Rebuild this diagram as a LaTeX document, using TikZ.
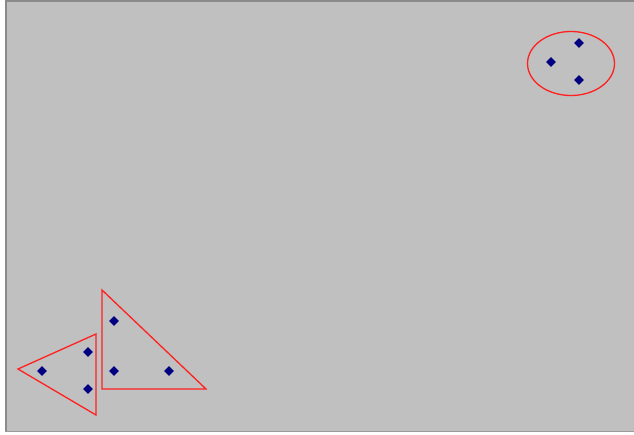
\documentclass[tikz,border=0pt]{standalone}
\usetikzlibrary{shapes.geometric}
\definecolor{bg}{HTML}{C0C0C0}
\definecolor{frame}{HTML}{8A8A8A}
\definecolor{pt}{HTML}{000080}
\definecolor{hull}{HTML}{FF2020}
\tikzset{
  dot/.style={diamond, fill=pt, inner sep=0pt, minimum width=10pt, minimum height=10pt},
  hullline/.style={draw=hull, line width=1.3pt}
}
\begin{document}
\begin{tikzpicture}[x=1pt,y=-1pt]
\useasboundingbox (0,0) rectangle (634,434);
\fill[white] (0,0) rectangle (634,434);
\fill[bg] (5,0) rectangle (634,432);
\draw[frame, line width=1.5pt] (5.75,432) -- (5.75,0.75) -- (634,0.75);
\draw[frame!70!bg, line width=1.2pt] (5,431.5) -- (634,431.5);
% hulls
\draw[hullline] (18,369) -- (96,334) -- (96,415) -- cycle;
\draw[hullline] (102,290) -- (102,389) -- (206,389) -- cycle;
\draw[hullline] (571,63.5) ellipse [x radius=43.5, y radius=32];
% points
\node[dot] (a1) at (42,371) {};
\node[dot] (a2) at (88,352) {};
\node[dot] (a3) at (88,389) {};
\node[dot] (b1) at (114,321) {};
\node[dot] (b2) at (114,371) {};
\node[dot] (b3) at (169,371) {};
\node[dot] (c1) at (551,62) {};
\node[dot] (c2) at (579,43) {};
\node[dot] (c3) at (579,80) {};
\end{tikzpicture}
\end{document}
